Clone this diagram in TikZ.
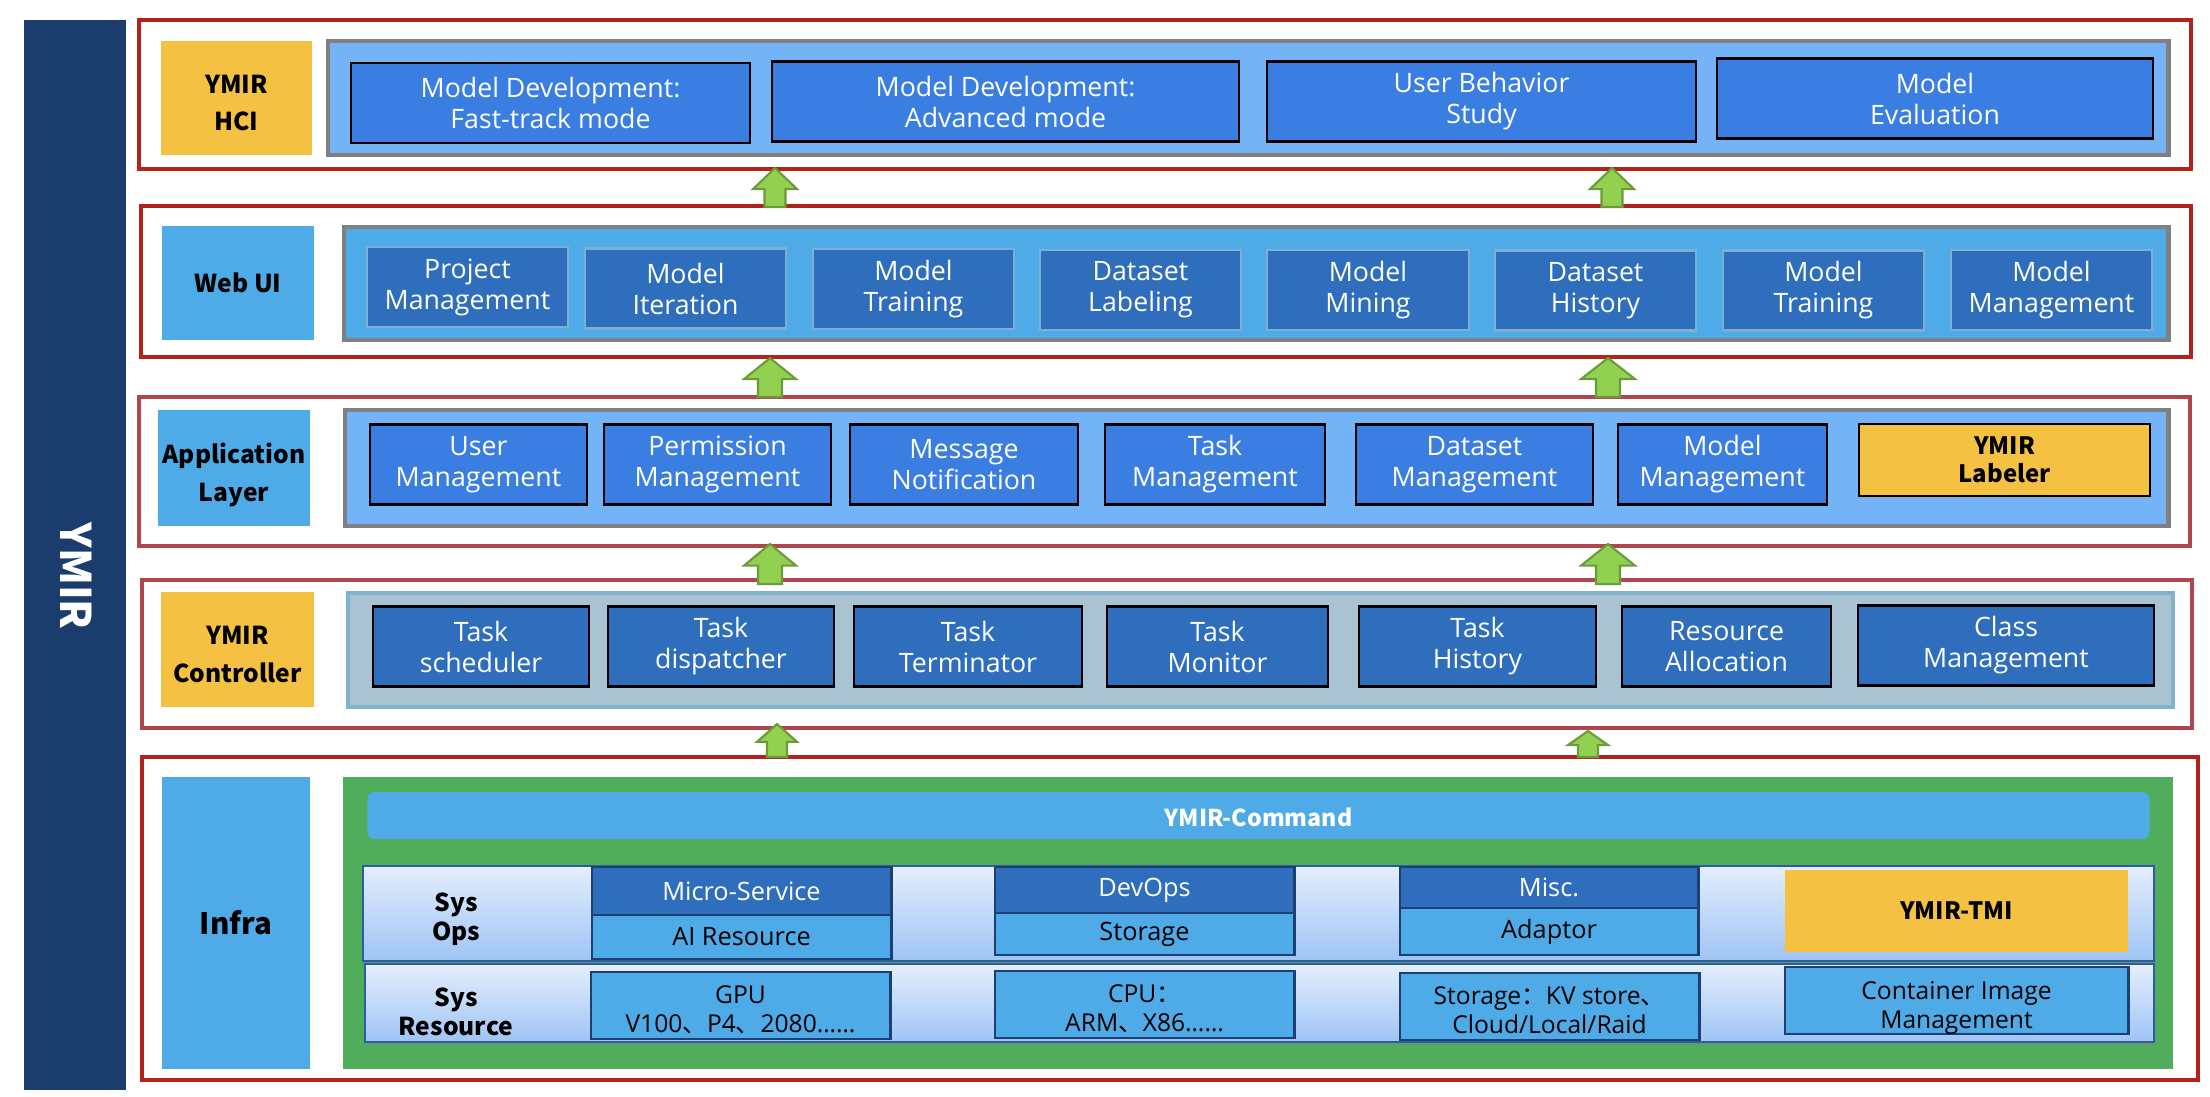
\documentclass[tikz,border=0pt]{standalone}
\usepackage{fontspec}
\setmainfont{Open Sans}
\newfontfamily\cjk{Noto Sans CJK SC}
\usetikzlibrary{fit,shadows}
\definecolor{ymirnavy}{HTML}{1A3D6E}
\definecolor{framered}{HTML}{B2231B}
\definecolor{framerose}{HTML}{B0454D}
\definecolor{ymiryellow}{HTML}{F4C142}
\definecolor{skyblue}{HTML}{4FABE8}
\definecolor{paleblue}{HTML}{74B3F5}
\definecolor{boxblue}{HTML}{3A7EE2}
\definecolor{deepblue}{HTML}{2E6EBD}
\definecolor{edgeblue}{HTML}{7CB0D3}
\definecolor{ctrlgray}{HTML}{A9C3D2}
\definecolor{ctrledge}{HTML}{7FB4CC}
\definecolor{infragreen}{HTML}{50AD5C}
\definecolor{rowtop}{HTML}{E5EEFC}
\definecolor{rowbottom}{HTML}{9EC4F5}
\definecolor{rowedge}{HTML}{2C5D9E}
\definecolor{navyedge}{HTML}{1D3F73}
\definecolor{arrowfill}{HTML}{92D050}
\definecolor{arrowedge}{HTML}{6B9A3B}
% block arrow: x, y bottom, y top, half head width, half shaft width
\newcommand{\layerarrow}[5]{%
  \draw[upblock] ({#1-#5},#2) -- ({#1+#5},#2) -- ({#1+#5},{#3+0.54*(#2-#3)})
    -- ({#1+#4},{#3+0.54*(#2-#3)}) -- (#1,#3) -- ({#1-#4},{#3+0.54*(#2-#3)})
    -- ({#1-#5},{#3+0.54*(#2-#3)}) -- cycle;}

\begin{document}
\begin{tikzpicture}[x=0.01cm, y=-0.01cm,
    layerframe/.style={draw=framered, line width=1.2pt, inner sep=0},
    softframe/.style={layerframe, draw=framerose},
    layerlabel/.style={fill=skyblue, inner sep=0, align=center, font=\cjk\fontsize{7}{10.8}\selectfont\bfseries},
    yellowlabel/.style={layerlabel, fill=ymiryellow},
    labeltext/.style={inner sep=0, align=center, font=\cjk\fontsize{7}{10.8}\selectfont\bfseries},
    panel/.style={draw=gray, line width=1.4pt, inner sep=0},
    hcibox/.style={draw=black, line width=0.6pt, fill=boxblue, text=white, inner sep=0, align=center, minimum height=0.8cm, font=\fontsize{7.6}{8.8}\selectfont},
    webbox/.style={hcibox, draw=edgeblue, fill=deepblue},
    ctrlbox/.style={hcibox, fill=deepblue},
    sysrow/.style={draw=rowedge, line width=0.6pt, top color=rowtop, bottom color=rowbottom, inner sep=0, drop shadow={opacity=0.35, shadow xshift=0.6pt, shadow yshift=-0.8pt}},
    opshead/.style={draw=navyedge, line width=0.8pt, fill=deepblue, text=white, inner sep=0, align=center, minimum width=2.99cm, font=\fontsize{7.2}{8}\selectfont},
    opsbase/.style={opshead, fill=skyblue, text=black},
    resbox/.style={opsbase, minimum height=0.67cm},
    restext/.style={inner sep=0, align=center, font=\fontsize{7}{8.3}\selectfont},
    upblock/.style={draw=arrowedge, fill=arrowfill, line width=0.6pt}]

    \useasboundingbox (0,0) rectangle (2210,1096);

    % YMIR bar
    \node[fill=ymirnavy, inner sep=0, fit={(24,20)(126,1090)}] (ymirbar) {};
    \node[rotate=-90, text=white, font=\cjk\fontsize{12}{14}\selectfont\bfseries] (ymirtext) at (76,576) {YMIR};

    % YMIR HCI
    \node[layerframe, fit={(139,20)(2191,169)}] (hciframe) {};
    \node[yellowlabel, minimum width=1.51cm, minimum height=1.14cm] (hcilabel) at (236.5,98) {};
    \node[labeltext] (hcilabeltext) at (236.5,103) {YMIR\\HCI};
    \node[panel, fill=paleblue, fit={(328,41)(2168,155)}] (hcipanel) {};
    \node[hcibox, minimum width=3.99cm] (hcifast) at (550.5,103) {Model Development:\\Fast-track mode};
    \node[hcibox, minimum width=4.67cm] (hciadv) at (1005.5,101.5) {Model Development:\\Advanced mode};
    \node[hcibox, minimum width=4.29cm] (hcistudy) at (1481.5,101.5) {User Behavior\\Study};
    \node[hcibox, minimum width=4.36cm] (hcieval) at (1935,98.5) {Model\\Evaluation};

    % Web UI
    \node[layerframe, fit={(141,206)(2191,357)}] (webframe) {};
    \node[layerlabel, minimum width=1.52cm, minimum height=1.14cm] (weblabel) at (238,283) {Web UI};
    \node[panel, fill=skyblue, fit={(344,227)(2168,340)}] (webpanel) {};
    \node[webbox, minimum width=2.01cm] (webproj) at (467.5,287) {Project\\Management};
    \node[webbox, minimum width=2.01cm] (webiter) at (685.5,288.5) {Model\\Iteration};
    \node[webbox, minimum width=2.01cm] (webtrain) at (913.5,289) {Model\\Training};
    \node[webbox, minimum width=2.01cm] (weblabeling) at (1140.5,290) {Dataset\\Labeling};
    \node[webbox, minimum width=2.02cm] (webmining) at (1368,290) {Model\\Mining};
    \node[webbox, minimum width=2.01cm] (webhistory) at (1595.5,290.5) {Dataset\\History};
    \node[webbox, minimum width=2.01cm] (webtraintwo) at (1823.5,290.5) {Model\\Training};
    \node[webbox, minimum width=2.01cm] (webmodels) at (2051.5,290) {Model\\Management};

    % Application Layer
    \node[softframe, fit={(139,397)(2190,546)}] (appframe) {};
    \node[layerlabel, minimum width=1.52cm, minimum height=1.16cm] (applabel) at (234,468) {};
    \node[labeltext] (applabeltext) at (234,475) {Application\\Layer};
    \node[panel, fill=paleblue, fit={(345,410)(2168,526)}] (apppanel) {};
    \node[hcibox, minimum width=2.17cm] (appuser) at (478.5,464.5) {User\\Management};
    \node[hcibox, minimum width=2.27cm] (appperm) at (717.5,464.5) {Permission\\Management};
    \node[hcibox, minimum width=2.28cm] (appmsg) at (964,464.5) {Message\\Notification};
    \node[hcibox, minimum width=2.20cm] (apptask) at (1215,464.5) {Task\\Management};
    \node[hcibox, minimum width=2.37cm] (appdata) at (1474.5,464.5) {Dataset\\Management};
    \node[hcibox, minimum width=2.09cm] (appmodel) at (1722.5,464.5) {Model\\Management};
    \node[hcibox, fill=ymiryellow, text=black, minimum width=2.91cm, minimum height=0.72cm, font=\cjk\fontsize{6.8}{8}\selectfont\bfseries] (applabeler) at (2004.5,460) {YMIR\\Labeler};

    % YMIR Controller
    \node[softframe, fit={(142,580)(2192,728)}] (ctrlframe) {};
    \node[yellowlabel, minimum width=1.53cm, minimum height=1.15cm] (ctrllabel) at (237.5,649.5) {};
    \node[labeltext] (ctrllabeltext) at (237.5,654) {YMIR\\Controller};
    \node[panel, draw=ctrledge, line width=1.1pt, fill=ctrlgray, fit={(348,593)(2173,707)}] (ctrlpanel) {};
    \node[ctrlbox, minimum width=2.16cm] (ctrlsched) at (481,646.5) {Task\\scheduler};
    \node[ctrlbox, minimum width=2.26cm] (ctrldisp) at (721,646.5) {Task\\dispatcher};
    \node[ctrlbox, minimum width=2.28cm] (ctrlterm) at (968,646.5) {Task\\Terminator};
    \node[ctrlbox, minimum width=2.21cm] (ctrlmon) at (1217.5,646.5) {Task\\Monitor};
    \node[ctrlbox, minimum width=2.37cm] (ctrlhist) at (1477.5,646.5) {Task\\History};
    \node[ctrlbox, minimum width=2.09cm] (ctrlres) at (1726.5,646.5) {Resource\\Allocation};
    \node[ctrlbox, minimum width=2.96cm] (ctrlclass) at (2006,645.5) {Class\\Management};

    % Infra
    \node[layerframe, fit={(142,757)(2198,1080)}] (infraframe) {};
    \node[layerlabel, minimum width=1.48cm, minimum height=2.92cm, font=\cjk\fontsize{8.4}{10}\selectfont\bfseries] (infralabel) at (236,923) {Infra};
    \node[fill=infragreen, inner sep=0, fit={(343,777)(2173,1069)}] (infrapanel) {};
    \node[fill=skyblue, rounded corners=2pt, inner sep=0, text=white, minimum width=17.81cm, minimum height=0.47cm, text height=6.4pt, text depth=0pt, font=\cjk\fontsize{6.6}{8}\selectfont\bfseries] (cmdbar) at (1258.5,815.5) {YMIR-Command};

    % Sys Ops row
    \node[sysrow, fit={(363,866)(2154,961)}] (opsrow) {};
    \node[labeltext, font=\cjk\fontsize{7}{8.3}\selectfont\bfseries] (opstitle) at (456,919) {Sys\\Ops};
    \node[opshead, minimum height=0.48cm] (opsmicro) at (741.5,891) {Micro-Service};
    \node[opsbase, minimum height=0.44cm] (opsai) at (741.5,937) {AI Resource};
    \node[opshead, minimum height=0.46cm] (opsdevops) at (1144.5,890) {DevOps};
    \node[opsbase, minimum height=0.42cm] (opsstorage) at (1144.5,934) {Storage};
    \node[opshead, minimum width=2.98cm, minimum height=0.41cm] (opsmisc) at (1549,887.5) {Misc.};
    \node[opsbase, minimum width=2.98cm, minimum height=0.47cm] (opsadaptor) at (1549,931.5) {Adaptor};
    \node[fill=ymiryellow, inner sep=0, minimum width=3.43cm, minimum height=0.82cm, font=\cjk\fontsize{6.8}{8}\selectfont\bfseries] (opstmi) at (1956.5,911) {YMIR-TMI};

    % Sys Resource row
    \node[sysrow, fit={(365,964)(2154,1042)}] (resrow) {};
    \node[labeltext, font=\cjk\fontsize{7}{8.3}\selectfont\bfseries] (restitle) at (456,1012) {Sys\\Resource};
    \node[resbox] (resgpu) at (740.5,1005.5) {};
    \node[restext] (resgputext) at (740.5,1010) {GPU\\V100{\cjk 、}P4{\cjk 、}2080……};
    \node[resbox] (rescpu) at (1144.5,1004.5) {};
    \node[restext] (rescputext) at (1144.5,1009) {CPU{\cjk ：}\\ARM{\cjk 、}X86……};
    \node[resbox] (reskv) at (1549.5,1006.5) {};
    \node[restext] (reskvtext) at (1549.5,1010) {Storage{\cjk ：}KV store{\cjk 、}\\Cloud/Local/Raid};
    \node[resbox, minimum width=3.43cm] (resimage) at (1956.5,1000.5) {};
    \node[restext] (resimagetext) at (1956.5,1008) {Container Image\\Management};

    % Arrows between layers
    \layerarrow{775}{207}{168}{22}{10.5}
    \layerarrow{1612}{207}{168}{22}{10.5}
    \layerarrow{770}{397}{358}{26}{12}
    \layerarrow{1608}{397}{358}{27}{12}
    \layerarrow{770}{584}{544}{26}{12}
    \layerarrow{1608}{584}{544}{27}{12}
    \layerarrow{777}{757}{724}{20}{10}
    \layerarrow{1588}{757}{731}{20}{10}
\end{tikzpicture}
\end{document}
